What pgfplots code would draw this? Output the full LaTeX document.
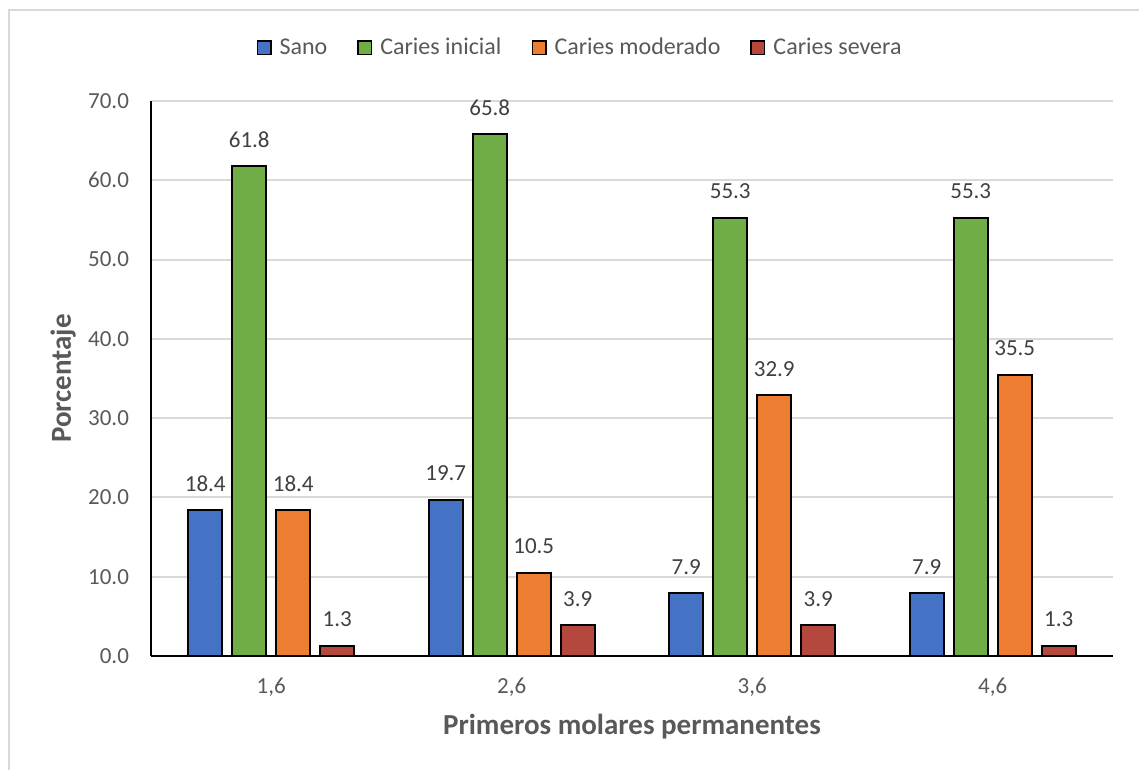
\documentclass[border=0pt]{standalone}
\usepackage{pgfplots}
\pgfplotsset{compat=1.18}
\usepackage{fontspec}
\setmainfont{Carlito}

\definecolor{txtgray}{HTML}{595959}
\definecolor{lblgray}{HTML}{404040}
\definecolor{gridgray}{HTML}{D9D9D9}
\definecolor{sano}{HTML}{4472C4}
\definecolor{inicial}{HTML}{70AD47}
\definecolor{moderado}{HTML}{ED7D31}
\definecolor{severa}{HTML}{B5483D}

% small square legend swatch with a black outline
\pgfplotsset{sqlegend/.style={
  legend image code/.code={%
    \draw[##1,draw=black,line width=0.7pt] (0pt,-3.4pt) rectangle (6.8pt,3.4pt);}}}

\begin{document}
\begin{tikzpicture}
\useasboundingbox (0,0) rectangle (569.5pt,385pt);
% chart frame
\draw[gridgray, line width=1pt] (4.25pt,-5pt) -- (4.25pt,380pt) -- (575pt,380pt);

\begin{axis}[
  at={(75.5pt,57pt)}, anchor=south west,
  scale only axis, width=481pt, height=277.5pt,
  ybar, bar width=0.1414,
  xmin=-0.5, xmax=3.5, ymin=0, ymax=70,
  xtick={0,1,2,3}, xticklabels={{1,6},{2,6},{3,6},{4,6}},
  ytick={0,10,...,70},
  yticklabel style={/pgf/number format/fixed, /pgf/number format/fixed zerofill,
    /pgf/number format/precision=1},
  /pgf/number format/assume math mode=true,
  major tick length=0pt,
  axis x line*=bottom, axis y line*=left,
  axis line style={-, black, line width=1pt},
  ymajorgrids, grid style={gridgray, line width=1pt},
  ticklabel style={font=\fontsize{11.5}{13}\selectfont, text=txtgray},
  xticklabel style={anchor=base, yshift=-19pt},
  yticklabel style={anchor=east, xshift=-7.5pt},
  xlabel={Primeros molares permanentes},
  ylabel={Porcentaje},
  xlabel style={at={(axis description cs:0.5,0)}, anchor=base, yshift=-39.5pt,
    font=\bfseries\fontsize{14.5}{17}\selectfont, text=txtgray},
  every axis y label/.style={at={([xshift=-40pt]axis description cs:0,0.5)},
    rotate=90, anchor=base,
    font=\bfseries\fontsize{14.5}{17}\selectfont, text=txtgray},
  legend style={at={(0.447,1.0955)}, anchor=center, draw=none,
    font=\fontsize{12}{14}\selectfont, text=txtgray,
    /tikz/every even column/.append style={column sep=13pt},
    /tikz/every odd column/.append style={column sep=2pt}},
  legend columns=4, legend cell align=left,
  nodes near coords,
  nodes near coords style={font=\fontsize{11.5}{13}\selectfont, text=lblgray,
    anchor=base, yshift=9.5pt,
    /pgf/number format/fixed, /pgf/number format/fixed zerofill,
    /pgf/number format/precision=1, /pgf/number format/assume math mode=true},
  every axis plot/.append style={draw=black, line width=1pt, sqlegend},
]
\addplot[fill=sano, bar shift=-0.2744]
  coordinates {(0,18.4) (1,19.7) (2,7.9) (3,7.9)};
\addplot[fill=inicial, bar shift=-0.0915]
  coordinates {(0,61.8) (1,65.8) (2,55.3) (3,55.3)};
\addplot[fill=moderado, bar shift=0.0915]
  coordinates {(0,18.4) (1,10.5) (2,32.9) (3,35.5)};
\addplot[fill=severa, bar shift=0.2744]
  coordinates {(0,1.3) (1,3.9) (2,3.9) (3,1.3)};
\legend{Sano, Caries inicial, Caries moderado, Caries severa}
\end{axis}
\end{tikzpicture}
\end{document}
